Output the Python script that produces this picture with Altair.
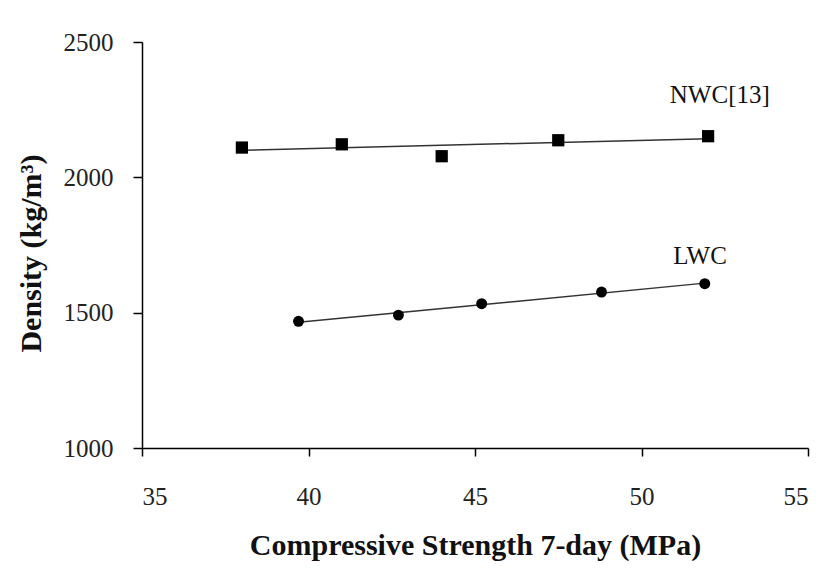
import altair as alt
import pandas as pd

# Data
nwc_x = [38.0, 41.0, 44.0, 47.5, 52.0]
nwc_y = [2110, 2122, 2078, 2137, 2152]
lwc_x = [39.7, 42.7, 45.2, 48.8, 51.9]
lwc_y = [1468, 1491, 1533, 1576, 1607]

label_text = ["NWC[13]", "LWC"]
label_x = [50.85, 50.95]
label_y = [2304, 1708]

x_ticks = [35, 40, 45, 50, 55]
y_ticks = [1000, 1500, 2000, 2500]

df = pd.DataFrame({
    "x": nwc_x + lwc_x,
    "y": nwc_y + lwc_y,
    "series": ["NWC"] * len(nwc_x) + ["LWC"] * len(lwc_x),
})
labels = pd.DataFrame({"x": label_x, "y": label_y, "text": label_text})

FONT = "Liberation Serif"

xscale = alt.Scale(domain=[35, 55], nice=False, zero=False)
yscale = alt.Scale(domain=[1000, 2500], nice=False, zero=False)

xaxis = alt.Axis(values=x_ticks, title="Compressive Strength 7-day (MPa)", grid=False,
                 tickSize=8, labelPadding=28, format="d",
                 titleBaseline="middle", titleY=97)
yaxis = alt.Axis(values=y_ticks, title="Density (kg/m³)", grid=False,
                 tickSize=9, labelPadding=20, format="d",
                 titleBaseline="middle", titleAlign="center", titleAngle=270,
                 titleX=-111, titleY=211)

base = alt.Chart(df)

lines = base.transform_regression("x", "y", groupby=["series"]).mark_line(
    color="#333333", strokeWidth=1.5
).encode(
    x=alt.X("x:Q", scale=xscale, axis=xaxis),
    y=alt.Y("y:Q", scale=yscale, axis=yaxis),
    detail="series:N",
)

squares = base.transform_filter(alt.datum.series == "NWC").mark_square(
    color="black", size=150, opacity=1
).encode(x=alt.X("x:Q", scale=xscale), y=alt.Y("y:Q", scale=yscale))

circles = base.transform_filter(alt.datum.series == "LWC").mark_circle(
    color="black", size=120, opacity=1
).encode(x=alt.X("x:Q", scale=xscale), y=alt.Y("y:Q", scale=yscale))

text = alt.Chart(labels).mark_text(
    align="left", baseline="middle", font=FONT, fontSize=25, color="#111111"
).encode(x=alt.X("x:Q", scale=xscale), y=alt.Y("y:Q", scale=yscale), text="text:N")

chart = alt.layer(lines, squares, circles, text).properties(
    width=666, height=406,
    autosize=alt.AutoSizeParams(type="none"),
    padding={"left": 142, "top": 42, "right": 16, "bottom": 120},
    background="white",
).configure_view(stroke=None).configure_axis(
    domainColor="black", tickColor="black", domainWidth=1.5, tickWidth=1.5,
    labelFont=FONT, labelFontSize=25, labelColor="#222222",
    titleFont=FONT, titleFontSize=30, titleFontWeight="bold", titleColor="#111111",
)

chart.save("out.html", embed_options={"renderer": "svg", "actions": False})
